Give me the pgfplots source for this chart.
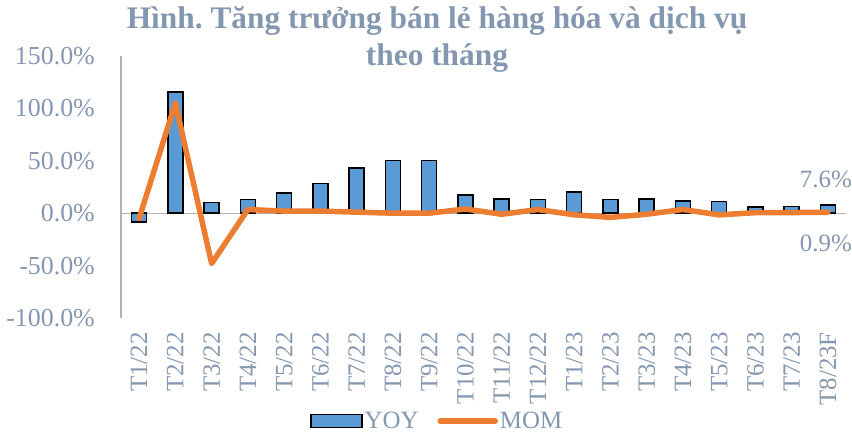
\documentclass[border=0pt]{standalone}
\usepackage{pgfplots}
\pgfplotsset{compat=1.18}
\usetikzlibrary{calc}
\usepackage{fontspec}
\setmainfont{Liberation Serif}
\frenchspacing
\definecolor{textc}{HTML}{8497B0}
\definecolor{barblue}{HTML}{5B9BD5}
\definecolor{lineorange}{HTML}{ED7D31}
\begin{document}
\begin{tikzpicture}
\useasboundingbox (0,0) rectangle (852bp,433bp);
\node[align=center, text=textc, font=\fontsize{31.5}{37}\selectfont\bfseries] at (437bp,394bp) {Hình. Tăng trưởng bán lẻ hàng hóa và dịch vụ\\theo tháng};
\begin{axis}[
  at={(121bp,115bp)}, anchor=south west,
  scale only axis, width=725bp, height=262bp,
  xmin=-0.5, xmax=19.5, ymin=-100, ymax=150,
  axis x line*=bottom, axis y line*=left,
  x axis line style={draw=none},
  y axis line style={draw=gray!60, line width=1.2bp, -},
  xtick={0,...,19},
  xticklabels={T1/22,T2/22,T3/22,T4/22,T5/22,T6/22,T7/22,T8/22,T9/22,T10/22,T11/22,T12/22,T1/23,T2/23,T3/23,T4/23,T5/23,T6/23,T7/23,T8/23F},
  ytick={-100,-50,0,50,100,150},
  yticklabels={-100.0\%,-50.0\%,0.0\%,50.0\%,100.0\%,150.0\%},
  major tick length=0pt,
  xticklabel style={yshift=-14bp, rotate=90, anchor=east, inner sep=0pt, font=\fontsize{25}{25}\selectfont, text=textc},
  yticklabel style={anchor=east, inner sep=0pt, xshift=-26bp, font=\fontsize{26}{26}\selectfont, text=textc},
  extra y ticks={0},
  extra y tick labels={},
  extra y tick style={grid=major, major grid style={draw=gray!60, line width=1.2bp}},
  legend columns=2,
  legend style={at={(0.436,-0.393)}, anchor=center, draw=none, fill=none,
    font=\fontsize{25}{25}\selectfont, text=textc, inner sep=0pt,
    /tikz/every even column/.append style={column sep=17bp}},
  clip=false,
]
\addplot[ybar, bar width=15bp, fill=barblue, draw=black, line width=1.6bp,
  legend image code/.code={\draw[fill=barblue, draw=black, line width=1.6bp] (0bp,-6.5bp) rectangle (51bp,6.5bp);}]
  coordinates {(0,-8.5) (1,115.8) (2,10.2) (3,13) (4,19.5) (5,28.4) (6,43) (7,50.4) (8,50.4) (9,17.6) (10,13.4) (11,13.1) (12,20) (13,13) (14,13.4) (15,11.5) (16,11.2) (17,5.8) (18,6.4) (19,7.6)};
\addlegendentry{YOY}
\addplot[sharp plot, draw=lineorange, line width=5.5bp, line join=round, line cap=round, no marks,
  legend image code/.code={\draw[draw=lineorange, line width=5.5bp, line cap=round] (0bp,0bp) -- (55bp,0bp);}]
  coordinates {(0,-5) (1,105) (2,-48) (3,3.5) (4,2) (5,2) (6,1) (7,0) (8,0) (9,4) (10,-1) (11,3.5) (12,-1.5) (13,-4) (14,-1) (15,3.5) (16,-1.6) (17,0.5) (18,0.6) (19,0.9)};
\addlegendentry{MOM}
\node[text=textc, font=\fontsize{25}{25}\selectfont] at ($(axis cs:19,7.6)+(-2bp,26bp)$) {7.6\%};
\node[text=textc, font=\fontsize{25}{25}\selectfont] at ($(axis cs:19,0.9)+(-2bp,-31bp)$) {0.9\%};
\end{axis}
\end{tikzpicture}
\end{document}
